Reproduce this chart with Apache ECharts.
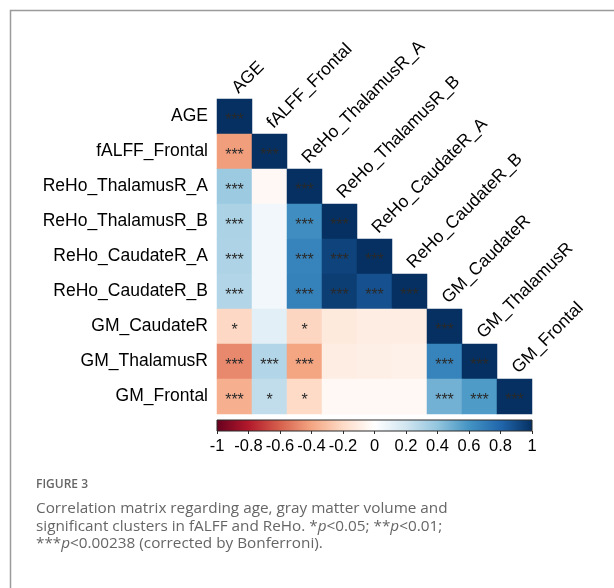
<!DOCTYPE html>
<html>
<head>
<meta charset="utf-8">
<style>
  html, body { margin: 0; padding: 0; background: #ffffff; }
  #chart { width: 614px; height: 588px; }
</style>
<script src="https://cdn.jsdelivr.net/npm/echarts@6/dist/echarts.min.js"></script>
</head>
<body>
<div id="chart"></div>
<script>
// Variables of the correlation matrix (top to bottom / left to right)
const variables = [
  'AGE', 'fALFF_Frontal', 'ReHo_ThalamusR_A', 'ReHo_ThalamusR_B',
  'ReHo_CaudateR_A', 'ReHo_CaudateR_B', 'GM_CaudateR', 'GM_ThalamusR', 'GM_Frontal'
];

// Lower triangle of Pearson r, one row per variable (row i has i+1 entries)
const corrRows = [
  [1],
  [-0.42, 1],
  [0.37, -0.04, 1],
  [0.32, 0.06, 0.62, 1],
  [0.31, 0.06, 0.67, 0.93, 1],
  [0.30, 0.06, 0.68, 0.95, 0.88, 1],
  [-0.21, 0.12, -0.22, -0.12, -0.10, -0.10, 1],
  [-0.48, 0.30, -0.40, -0.10, -0.09, -0.08, 0.67, 1],
  [-0.36, 0.25, -0.20, -0.04, -0.04, -0.04, 0.48, 0.57, 1]
];

// Significance marks for the same cells
const sigRows = [
  ['***'],
  ['***', '***'],
  ['***', '', '***'],
  ['***', '', '***', '***'],
  ['***', '', '***', '***', '***'],
  ['***', '', '***', '***', '***', '***'],
  ['*', '', '*', '', '', '', '***'],
  ['***', '***', '***', '', '', '', '***', '***'],
  ['***', '*', '*', '', '', '', '***', '***', '***']
];

// Colour bar ticks
const barTicks = [-1, -0.8, -0.6, -0.4, -0.2, 0, 0.2, 0.4, 0.6, 0.8, 1];

// RdBu diverging palette, from r = -1 to r = +1
const rdbu = ['#67001F', '#B2182B', '#D6604D', '#F4A582', '#FDDBC7', '#FFFFFF',
              '#D1E5F0', '#92C5DE', '#4393C3', '#2166AC', '#053061'];

const cells = [];
corrRows.forEach((row, i) => {
  row.forEach((r, j) => {
    cells.push({ value: [j, i, r], sig: sigRows[i][j] });
  });
});

const labelFont = '"Liberation Sans", Arial, sans-serif';
const captionFont = '"Open Sans", sans-serif';

const gradient = {
  type: 'linear', x: 0, y: 0, x2: 1, y2: 0,
  colorStops: rdbu.map((c, k) => ({ offset: k / (rdbu.length - 1), color: c }))
};

const chart = echarts.init(document.getElementById('chart'), null, { renderer: 'canvas' });

chart.setOption({
  animation: false,
  backgroundColor: '#ffffff',
  grid: [
    { left: 217, top: 99, width: 315, height: 315 },
    {
      left: 217, top: 420, width: 315, height: 11,
      show: true, backgroundColor: gradient, borderColor: '#2b2b2b', borderWidth: 1
    }
  ],
  xAxis: [
    { type: 'category', data: variables, gridIndex: 0, show: false },
    {
      type: 'value', gridIndex: 1, min: -1, max: 1, interval: 0.2,
      axisLine: { show: false },
      splitLine: { show: false },
      axisTick: { show: true, length: 3, lineStyle: { color: '#2b2b2b', width: 1 } },
      axisLabel: {
        margin: 7, fontSize: 16.5, color: '#000', fontFamily: labelFont,
        formatter: v => {
          const t = barTicks.find(b => Math.abs(b - v) < 1e-6);
          return t === undefined ? '' : String(t);
        }
      }
    }
  ],
  yAxis: [
    {
      type: 'category', data: variables, gridIndex: 0, inverse: true,
      axisLine: { show: false }, axisTick: { show: false }, splitLine: { show: false },
      axisLabel: { margin: 9, fontSize: 17.5, color: '#000', fontFamily: labelFont }
    },
    { type: 'value', gridIndex: 1, show: false, min: 0, max: 1 }
  ],
  visualMap: {
    show: false, type: 'continuous', min: -1, max: 1, dimension: 2,
    seriesIndex: 0, inRange: { color: rdbu }
  },
  graphic: [
    {
      type: 'rect', left: 8, top: 8, silent: true, z: -10,
      shape: { x: 0, y: 0, width: 700, height: 700 },
      style: { fill: 'none', stroke: '#9a9a9a', lineWidth: 1.5 }
    },
    {
      type: 'text', left: 36, top: 479,
      style: { text: 'FIGURE 3', fill: '#666666', font: '600 12px ' + captionFont }
    },
    {
      type: 'text', left: 36, top: 500,
      style: {
        text: 'Correlation matrix regarding age, gray matter volume and\n' +
              'significant clusters in fALFF and ReHo. *{i|p}<0.05; **{i|p}<0.01;\n' +
              '***{i|p}<0.00238 (corrected by Bonferroni).',
        fill: '#666666',
        font: '15.3px ' + captionFont,
        lineHeight: 17.5,
        rich: { i: { fontStyle: 'italic', fontSize: 15.3, fontFamily: captionFont, fill: '#666666' } }
      }
    }
  ],
  series: [
    {
      type: 'heatmap', xAxisIndex: 0, yAxisIndex: 0,
      data: cells,
      itemStyle: { borderWidth: 0 },
      label: {
        show: true, formatter: p => p.data.sig,
        color: '#2a2a2a', fontSize: 16, fontFamily: labelFont, offset: [0, 4]
      },
      emphasis: { disabled: true }
    },
    {
      // diagonal column names, written at 45 degrees above each diagonal cell
      type: 'custom', xAxisIndex: 0, yAxisIndex: 0,
      data: variables.map((v, j) => [j, j]),
      renderItem: (params, api) => {
        const j = api.value(0);
        const p = api.coord([j, j]);
        const s = api.size([1, 1]);
        return {
          type: 'text',
          x: p[0] + 7, y: p[1] - s[1] / 2 - 2,
          rotation: Math.PI / 4,
          style: {
            text: variables[j], fill: '#000',
            font: '17.5px ' + labelFont,
            align: 'left', verticalAlign: 'bottom'
          }
        };
      }
    }
  ]
});
</script>
</body>
</html>
